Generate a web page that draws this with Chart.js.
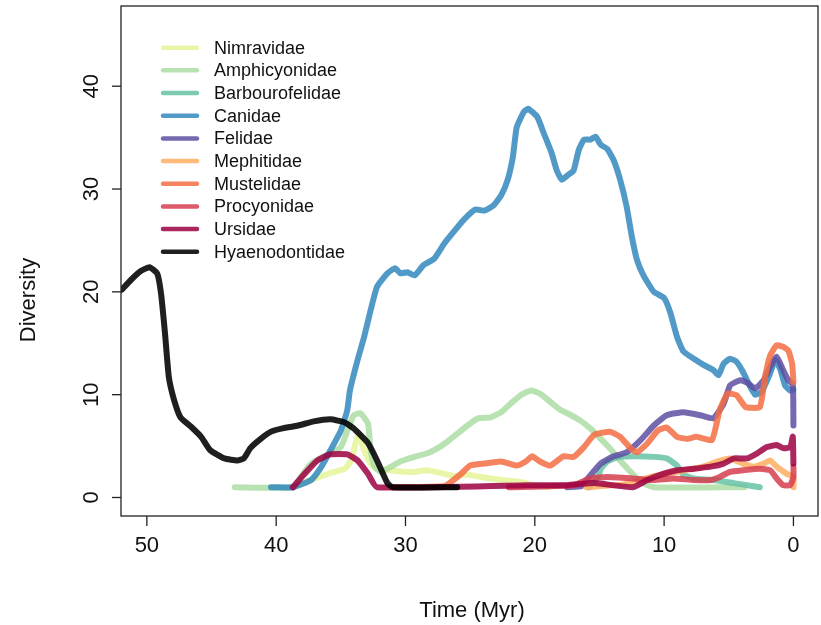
<!DOCTYPE html>
<html>
<head>
<meta charset="utf-8">
<script src="https://cdn.jsdelivr.net/npm/chart.js@4"></script>
<style>
  html, body { margin: 0; padding: 0; background: #fff; }
  canvas { display: block; }
</style>
</head>
<body>
<canvas id="diversidad" width="821" height="625"></canvas>
<script>
// ######### data - diversity through time (Myr ago)
// ###########################################

const families = ['Nimravidae', 'Amphicyonidae', 'Barbourofelidae', 'Canidae', 'Felidae',
                  'Mephitidae', 'Mustelidae', 'Procyonidae', 'Ursidae', 'Hyaenodontidae'];
const colores = ['rgba(230,245,152,0.85)', 'rgba(171,221,164,0.85)', 'rgba(102,194,165,0.85)',
                 'rgba(50,136,189,0.85)', 'rgba(94,79,162,0.85)', 'rgba(253,174,97,0.85)',
                 'rgba(244,109,67,0.85)', 'rgba(213,62,79,0.85)', 'rgba(158,1,66,0.85)',
                 'rgba(0,0,0,0.88)'];

const xTicks = [50, 40, 30, 20, 10, 0];
const yTicks = [0, 10, 20, 30, 40];

const nimravidaeT = [38.9, 37.3, 36.0, 34.7, 34.2, 33.8, 33.6, 33.2, 32.7, 32.2, 31.1, 30.1, 29.3, 28.3, 27.3, 26.3, 25.2, 24.2, 22.6, 21.1, 20.1, 19.0];
const nimravidaeD = [1.0, 1.7, 2.3, 2.8, 3.6, 5.6, 6.1, 4.6, 3.3, 2.8, 2.65, 2.5, 2.5, 2.65, 2.4, 2.1, 2.2, 2.0, 1.7, 1.5, 1.2, 1.0];

const amphicyonidaeT = [43.2, 38.7, 38.1, 37.3, 36.0, 35.0, 34.5, 34.0, 33.5, 32.9, 32.7, 32.4, 31.9, 31.1, 30.4, 29.3, 28.3, 27.5, 26.8, 26.0, 25.2, 24.4, 23.4, 22.6, 21.9, 21.1, 20.3, 19.6, 18.8, 18.0, 17.2, 16.5, 15.7, 14.9, 14.2, 13.4, 12.6, 11.8, 10.8, 3.8];
const amphicyonidaeD = [1.0, 1.0, 2.0, 3.3, 4.2, 4.9, 6.5, 8.0, 8.2, 7.2, 4.6, 3.0, 2.5, 3.0, 3.5, 3.95, 4.3, 4.8, 5.4, 6.2, 7.0, 7.7, 7.8, 8.3, 9.1, 9.95, 10.4, 10.1, 9.3, 8.5, 8.0, 7.5, 6.7, 5.7, 4.8, 3.6, 2.5, 1.5, 1.0, 1.0];

const barbourofelidaeT = [15.8, 15.1, 14.9, 14.4, 13.6, 12.4, 10.8, 9.8, 9.0, 8.5, 7.7, 6.2, 4.6, 3.6, 2.6];
const barbourofelidaeD = [1.0, 2.0, 2.8, 3.5, 3.9, 4.0, 3.95, 3.8, 3.1, 2.2, 1.85, 1.7, 1.4, 1.2, 1.0];

const canidaeT = [40.4, 38.7, 37.3, 36.5, 35.8, 35.0, 34.5, 34.3, 33.7, 33.2, 32.7, 32.2, 31.4, 30.8, 30.4, 29.85, 29.3, 28.6, 27.8, 27.0, 26.3, 25.5, 24.6, 23.9, 23.2, 22.6, 22.1, 21.7, 21.4, 20.85, 20.5, 19.8, 19.3, 18.7, 18.3, 17.9, 17.4, 17.0, 16.6, 16.2, 15.7, 15.3, 14.9, 14.4, 13.9, 13.4, 12.9, 12.5, 12.1, 11.6, 10.8, 10.0, 9.5, 9.0, 8.5, 7.7, 6.95, 6.2, 5.8, 5.4, 4.9, 4.4, 3.9, 3.35, 2.95, 2.45, 1.8, 1.4, 1.0, 0.65, 0.25, 0];
const canidaeD = [1.0, 1.0, 1.7, 3.0, 4.6, 6.5, 8.5, 10.4, 13.4, 15.6, 18.2, 20.5, 21.8, 22.3, 21.8, 21.9, 21.6, 22.6, 23.2, 24.7, 25.8, 27.0, 28.0, 27.9, 28.4, 29.4, 30.9, 33.1, 36.0, 37.5, 37.8, 37.0, 35.4, 33.5, 31.8, 30.9, 31.4, 31.8, 33.8, 34.8, 34.8, 35.1, 34.3, 33.9, 32.8, 30.9, 28.3, 25.4, 23.1, 21.6, 20.0, 19.4, 17.9, 15.6, 14.2, 13.5, 12.9, 12.4, 11.9, 13.0, 13.5, 13.2, 12.2, 10.8, 10.0, 10.3, 12.1, 13.4, 12.4, 10.9, 10.4, 10.5];

const felidaeT = [17.5, 16.4, 16.0, 14.9, 13.9, 12.9, 11.8, 10.8, 9.8, 8.5, 7.2, 6.2, 5.4, 4.9, 4.1, 3.5, 2.95, 2.3, 1.8, 1.3, 0.8, 0.4, 0.05, 0];
const felidaeD = [1.0, 1.1, 1.7, 3.3, 4.0, 4.4, 5.6, 7.0, 8.0, 8.3, 8.0, 7.7, 9.1, 10.9, 11.4, 11.1, 10.6, 11.4, 12.7, 13.7, 12.4, 11.4, 11.0, 7.0];

const mephitidaeT = [16.0, 13.0, 11.0, 9.0, 7.0, 5.9, 4.9, 3.9, 3.1, 2.3, 1.8, 1.3, 0.5, 0, 0];
const mephitidaeD = [1.0, 1.3, 2.0, 2.5, 3.0, 3.5, 3.8, 3.3, 3.0, 3.3, 3.6, 3.0, 2.3, 2.0, 1.0];

const mustelidaeT = [31.0, 27.0, 26.5, 25.7, 25.0, 23.9, 22.6, 21.4, 20.7, 20.2, 19.6, 18.8, 17.8, 17.0, 16.2, 15.4, 14.2, 13.4, 12.6, 12.1, 11.3, 10.5, 9.8, 9.0, 8.2, 7.5, 6.3, 5.7, 5.1, 4.4, 3.7, 2.6, 2.2, 1.8, 1.3, 0.8, 0.4, 0.1, 0];
const mustelidaeD = [1.0, 1.1, 1.5, 2.3, 3.1, 3.3, 3.5, 3.1, 3.5, 4.0, 3.5, 3.1, 4.0, 3.95, 4.9, 6.1, 6.4, 5.9, 4.8, 4.4, 5.25, 6.5, 6.8, 5.9, 5.7, 5.9, 5.6, 8.5, 10.1, 9.95, 8.8, 8.8, 11.7, 13.8, 14.8, 14.65, 14.3, 13.0, 11.2];

const procyonidaeT = [22.0, 17.0, 15.7, 14.4, 12.4, 10.8, 9.3, 7.7, 6.4, 5.7, 4.9, 3.9, 2.6, 1.8, 1.3, 0.8, 0.25, 0, 0];
const procyonidaeD = [1.0, 1.2, 1.85, 2.0, 1.85, 1.7, 1.85, 1.7, 1.7, 2.0, 2.5, 2.65, 2.8, 2.65, 1.85, 1.2, 1.2, 2.0, 3.0];

const ursidaeT = [38.7, 37.8, 36.8, 35.8, 34.5, 33.7, 32.9, 32.2, 20.6, 17.5, 15.4, 12.4, 11.3, 10.3, 9.0, 7.7, 6.4, 5.4, 4.6, 3.6, 2.8, 2.05, 1.3, 0.8, 0.25, 0.05, 0];
const ursidaeD = [1.0, 2.3, 3.6, 4.2, 4.2, 3.6, 2.3, 1.0, 1.2, 1.2, 1.4, 1.0, 1.7, 2.2, 2.65, 2.8, 3.0, 3.3, 3.8, 3.8, 4.3, 4.9, 5.1, 4.8, 4.9, 5.9, 3.3];

const hyaenodontidaeT = [51.95, 51.2, 50.5, 49.8, 49.2, 48.9, 48.6, 48.3, 47.9, 47.4, 46.6, 45.8, 45.1, 44.0, 43.0, 42.5, 42.0, 41.2, 40.4, 39.6, 38.3, 37.1, 35.8, 34.7, 34.0, 32.9, 32.2, 31.4, 31.0, 26.0];
const hyaenodontidaeD = [20.2, 21.2, 22.0, 22.4, 21.8, 19.8, 16.0, 11.7, 9.5, 7.8, 6.9, 5.9, 4.6, 3.8, 3.6, 3.8, 4.8, 5.7, 6.4, 6.7, 7.0, 7.4, 7.6, 7.3, 6.7, 5.3, 3.6, 1.4, 1.0, 1.0];

const series = [
    [nimravidaeT, nimravidaeD], [amphicyonidaeT, amphicyonidaeD], [barbourofelidaeT, barbourofelidaeD],
    [canidaeT, canidaeD], [felidaeT, felidaeD], [mephitidaeT, mephitidaeD],
    [mustelidaeT, mustelidaeD], [procyonidaeT, procyonidaeD], [ursidaeT, ursidaeD],
    [hyaenodontidaeT, hyaenodontidaeD]
];

// ######### plugin - caja, ejes y leyenda estilo R
// ###########################################

const FONT = '"Liberation Sans", Arial, Helvetica, sans-serif';

const marcoR = {
    id: 'marcoR',
    afterDraw(chart) {
        const { ctx, chartArea: a, scales: { x, y } } = chart;
        ctx.save();
        ctx.strokeStyle = '#222';
        ctx.lineWidth = 1.3;
        ctx.strokeRect(a.left, a.top, a.right - a.left, a.bottom - a.top);

        ctx.fillStyle = '#111';
        ctx.font = '22px ' + FONT;

        // eje x
        ctx.textAlign = 'center';
        ctx.textBaseline = 'alphabetic';
        xTicks.forEach(v => {
            const px = x.getPixelForValue(v);
            ctx.beginPath();
            ctx.moveTo(px, a.bottom);
            ctx.lineTo(px, a.bottom + 10);
            ctx.stroke();
            ctx.fillText(String(v), px, a.bottom + 36);
        });

        // eje y (etiquetas giradas)
        yTicks.forEach(v => {
            const py = y.getPixelForValue(v);
            ctx.beginPath();
            ctx.moveTo(a.left, py);
            ctx.lineTo(a.left - 9, py);
            ctx.stroke();
            ctx.save();
            ctx.translate(a.left - 23, py);
            ctx.rotate(-Math.PI / 2);
            ctx.fillText(String(v), 0, 0);
            ctx.restore();
        });

        // titulos
        ctx.fillText('Time (Myr)', 472, 617);
        ctx.save();
        ctx.translate(35, 300);
        ctx.rotate(-Math.PI / 2);
        ctx.fillText('Diversity', 0, 0);
        ctx.restore();

        // leyenda
        ctx.font = '18px ' + FONT;
        ctx.textAlign = 'left';
        ctx.textBaseline = 'middle';
        ctx.lineWidth = 4.5;
        ctx.lineCap = 'round';
        families.forEach((f, i) => {
            const ly = 47.7 + i * 22.67;
            ctx.strokeStyle = colores[i];
            ctx.beginPath();
            ctx.moveTo(163, ly);
            ctx.lineTo(197, ly);
            ctx.stroke();
            ctx.fillStyle = '#111';
            ctx.fillText(f, 214, ly + 1);
        });
        ctx.restore();
    }
};

// ######### chart
// ###########################################

const canvas = document.getElementById('diversidad');

if (canvas) {
    const ctx = canvas.getContext('2d');
    const chart = new Chart(ctx, {
        type: 'line',
        data: {
            datasets: series.map((s, i) => ({
                label: families[i],
                data: s[0].map((t, k) => ({ x: t, y: s[1][k] })),
                borderColor: colores[i],
                borderWidth: 6,
                borderCapStyle: 'round',
                borderJoinStyle: 'round',
                pointRadius: 0,
                fill: false,
                tension: 0.15,
                order: families.length - i   // Hyaenodontidae encima, como en R
            }))
        },
        options: {
            responsive: false,
            animation: false,
            devicePixelRatio: 1,
            layout: { padding: { left: 121, right: 3, top: 6, bottom: 109 } },
            plugins: { legend: { display: false }, tooltip: { enabled: false } },
            scales: {
                x: { type: 'linear', reverse: true, min: -1.9, max: 52, display: false },
                y: { type: 'linear', min: -1.8, max: 47.8, display: false }
            }
        },
        plugins: [marcoR]
    });
}
</script>
</body>
</html>
